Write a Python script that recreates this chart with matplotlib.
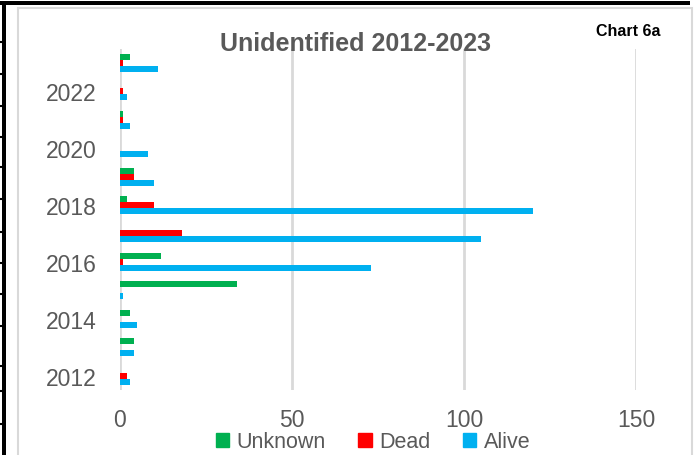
import matplotlib.pyplot as plt
from matplotlib.patches import Rectangle
from matplotlib.lines import Line2D
import numpy as np

years = [2012, 2013, 2014, 2015, 2016, 2017, 2018, 2019, 2020, 2021, 2022, 2023]
unknown = [0, 4, 3, 34, 12, 0, 2, 4, 0, 1, 0, 3]
dead = [2, 0, 0, 0, 1, 18, 10, 4, 0, 1, 1, 1]
alive = [3, 4, 5, 1, 73, 105, 120, 10, 8, 3, 2, 11]

shown_years = [2012, 2014, 2016, 2018, 2020, 2022]
x_ticks = [0, 50, 100, 150]

c_unknown = "#00B050"
c_dead = "#FF0000"
c_alive = "#00B0F0"
grey_text = "#595959"
grid_grey = "#D9D9D9"

plt.rcParams['font.family'] = ['Liberation Sans', 'DejaVu Sans']

W, H = 699, 456
fig = plt.figure(figsize=(W / 100, H / 100), dpi=100)

# chart area outline plus the sheet edges around it
fig.add_artist(Rectangle((18 / W, -0.02), (692 - 18) / W, 1.0, transform=fig.transFigure,
                         fill=False, edgecolor=grid_grey, lw=1.5))
fig.add_artist(Rectangle((0, 1 - 6 / H), 690 / W, 4 / H, transform=fig.transFigure,
                         color="black", lw=0))
fig.add_artist(Rectangle((2 / W, 0), 4 / W, 1 - 2 / H, transform=fig.transFigure,
                         color="black", lw=0))
for yy in [43, 75, 107, 138, 168, 200, 233, 264, 295, 327, 367, 392, 425]:
    fig.add_artist(Line2D([0, 3 / W], [1 - yy / H, 1 - yy / H], transform=fig.transFigure,
                          color="black", lw=1.5))

ax = fig.add_axes([120 / W, 65 / H, (636 - 120) / W, (391 - 49.5) / H])

pos = np.arange(len(years))
h = 0.21
ax.barh(pos + h, unknown, height=h, color=c_unknown, label="Unknown")
ax.barh(pos, dead, height=h, color=c_dead, label="Dead")
ax.barh(pos - h, alive, height=h, color=c_alive, label="Alive")

ax.set_xlim(0, 150)
ax.set_ylim(-0.5, len(years) - 0.5)
ax.set_xticks(x_ticks)
ax.set_xticklabels([str(v) for v in x_ticks])
ax.set_yticks([years.index(y) for y in shown_years])
ax.set_yticklabels([str(y) for y in shown_years])
ax.tick_params(axis="both", length=0, labelsize=16.5, labelcolor=grey_text)
ax.tick_params(axis="x", pad=13)
ax.tick_params(axis="y", pad=17)

for v in x_ticks:
    ax.axvline(v, color=grid_grey, lw=2, zorder=0)
for s in ax.spines.values():
    s.set_visible(False)

fig.text(356 / W, 1 - 44 / H, "Unidentified 2012-2023", ha="center", va="center",
         fontsize=18, fontweight="bold", color=grey_text)
fig.text(628 / W, 1 - 32 / H, "Chart 6a", ha="center", va="center",
         fontsize=11.5, fontweight="bold", color="black")

handles = [Rectangle((0, 0), 1, 1, color=c) for c in (c_unknown, c_dead, c_alive)]
leg = fig.legend(handles, ["Unknown", "Dead", "Alive"], loc="center", ncol=3,
                 bbox_to_anchor=(373 / W, 1 - 443 / H), frameon=False, fontsize=15.5,
                 handlelength=0.63, handleheight=0.63, handletextpad=0.34, columnspacing=1.5,
                 borderpad=0)
for t in leg.get_texts():
    t.set_color(grey_text)

fig.savefig("out.png", dpi=100)
